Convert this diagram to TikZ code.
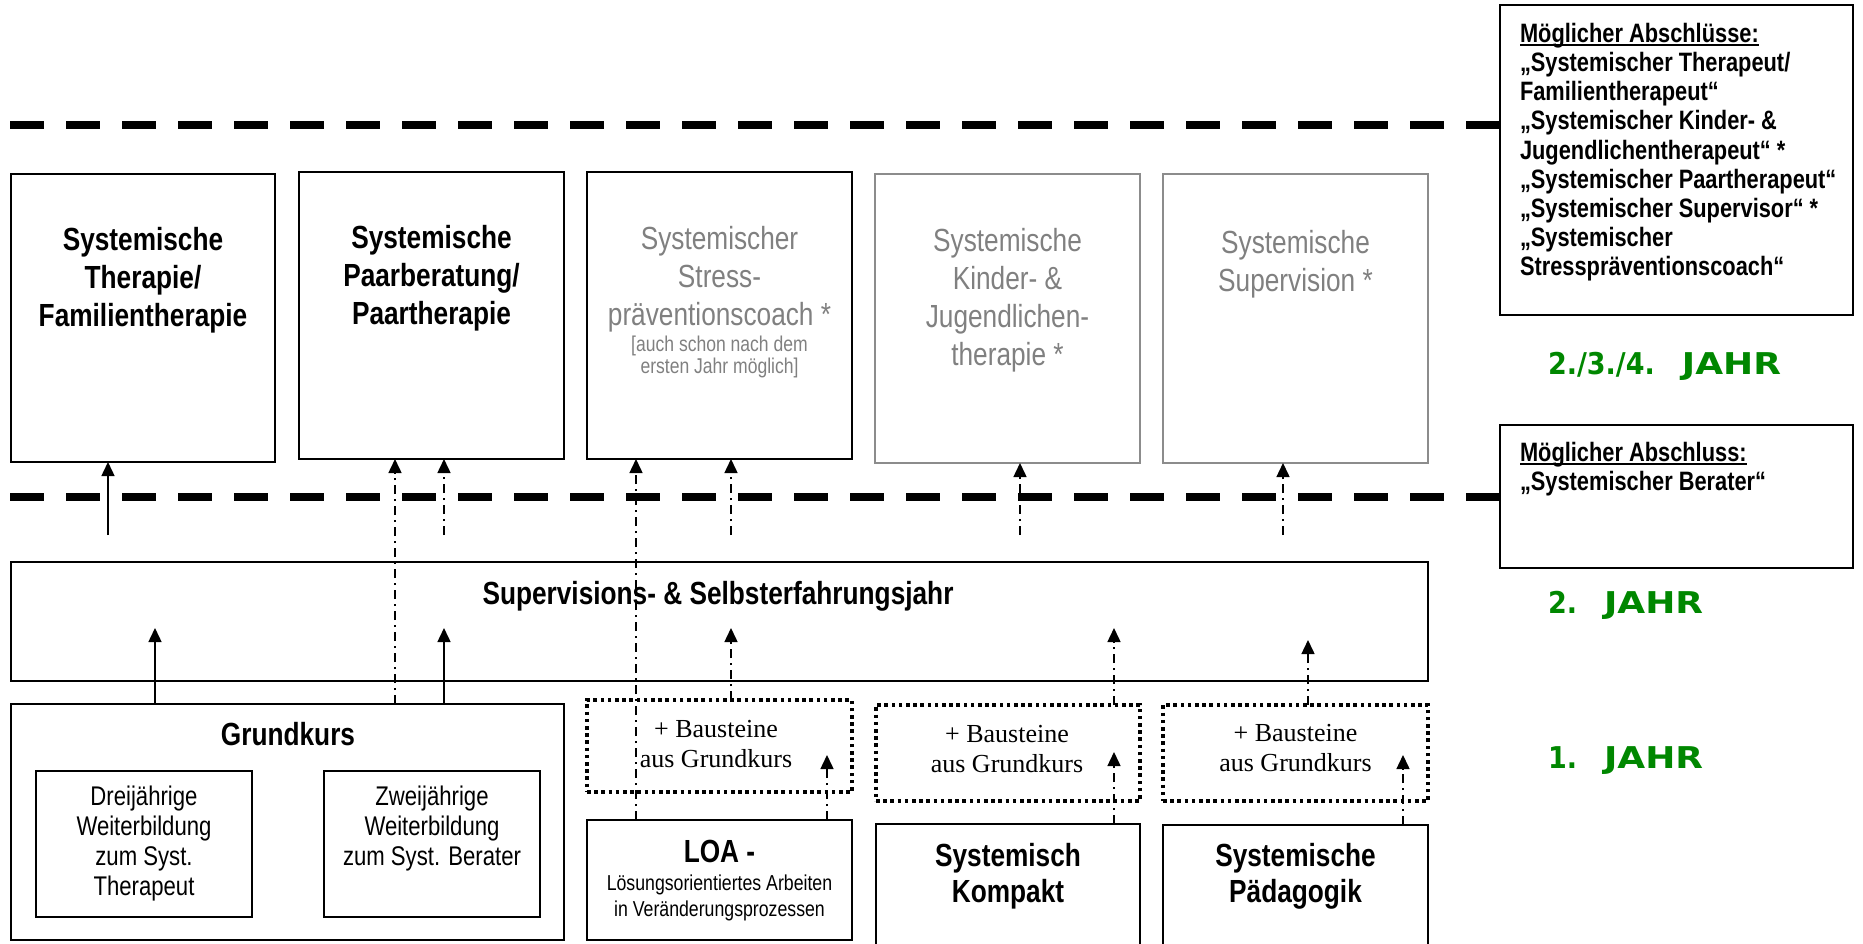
\documentclass[tikz,border=0pt]{standalone}
\usepackage{fontspec}
\setmainfont{Liberation Sans}[FakeStretch=0.82]
\newfontfamily\tnr{Liberation Serif}
\newfontfamily\jahrnum{DejaVu Sans}[FakeStretch=0.9]
\newfontfamily\jahrwide{DejaVu Sans}[FakeStretch=1.2]
\usetikzlibrary{arrows.meta,fit}
\definecolor{txtgray}{RGB}{128,128,128}
\definecolor{boxgray}{RGB}{140,140,140}
\definecolor{jahrgreen}{RGB}{0,135,0}
\newcommand\myul[1]{\setbox0\hbox{#1}\rlap{\rule[-2pt]{\wd0}{0.9pt}}\box0}
\newcommand\jahrtxt[1]{{\jahrnum #1}\hspace{0.9em}{\jahrwide JAHR}}
\begin{document}
\begin{tikzpicture}[x=0.5pt,y=-0.5pt,
  every node/.style={inner sep=0pt,outer sep=0pt},
  box/.style={draw,line width=1pt},
  grbox/.style={draw=boxgray,line width=1pt},
  thickbox/.style={draw,line width=1.25pt},
  dotbox/.style={draw,line width=1.8pt,dash pattern=on 1.8pt off 1.8pt},
  bigdash/.style={line width=4pt,dash pattern=on 17pt off 11pt},
  tipstyle/.style={-{Triangle[width=6.5pt,length=7pt]}},
  solidarr/.style={tipstyle,line width=0.75pt},
  ddarr/.style={tipstyle,line width=0.75pt,dash pattern=on 4.5pt off 2.5pt on 1pt off 2.5pt},
  bigb/.style={font=\fontsize{16}{19}\selectfont\bfseries,align=center},
  bigg/.style={font=\fontsize{16}{19}\selectfont,text=txtgray,align=center},
  smallg/.style={font=\fontsize{10.7}{11}\selectfont,text=txtgray,align=center},
  subtxt/.style={font=\fontsize{13.5}{15}\selectfont,align=center},
  bautxt/.style={font=\tnr\fontsize{13}{15}\selectfont,align=center},
  righttxt/.style={font=\fontsize{13.3}{14.6}\selectfont\bfseries,align=left},
  jahr/.style={font=\bfseries\fontsize{15}{18}\selectfont,text=jahrgreen}
]
\clip (0,0) rectangle (1863,943);

% top boxes
\node[box,  fit={(11,174) (275,462)}]  (A) {};
\node[box,  fit={(299,172) (564,459)}] (B) {};
\node[box,  fit={(587,172) (852,459)}] (C) {};
\node[grbox,fit={(875,174) (1140,463)}] (D) {};
\node[grbox,fit={(1163,174) (1428,463)}] (E) {};

\node[bigb,anchor=north] (Atxt) at (143,227) {Systemische\\Therapie/\\Familientherapie};
\node[bigb,anchor=north] (Btxt) at (431.5,225) {Systemische\\Paarberatung/\\Paartherapie};
\node[bigg,anchor=north] (Ctxt) at (719.5,226) {Systemischer\\Stress-\\präventionscoach *};
\node[smallg,anchor=north] (Cnote) at (719.5,336) {[auch schon nach dem\\ersten Jahr möglich]};
\node[bigg,anchor=north] (Dtxt) at (1007.5,228) {Systemische\\Kinder- \&\\Jugendlichen-\\therapie *};
\node[bigg,anchor=north] (Etxt) at (1295.5,230) {Systemische\\Supervision *};

% right boxes
\node[thickbox,fit={(1500,5) (1853,315)}] (R1) {};
\node[thickbox,fit={(1500,425) (1853,568)}] (R2) {};
\node[righttxt,anchor=north west] (R1txt) at (1520,23) {\myul{Möglicher Abschlüsse:}\\
„Systemischer Therapeut/\\
Familientherapeut“\\
„Systemischer Kinder- \&\\
Jugendlichentherapeut“ *\\
„Systemischer Paartherapeut“\\
„Systemischer Supervisor“ *\\
„Systemischer\\
Stresspräventionscoach“};
\node[righttxt,anchor=north west] (R2txt) at (1520,442) {\myul{Möglicher Abschluss:}\\
„Systemischer Berater“};

% year labels
\node[jahr,anchor=base west] (J1) at (1548,374) {\jahrtxt{2./3./4.}};
\node[jahr,anchor=base west] (J2) at (1548,613) {\jahrtxt{2.}};
\node[jahr,anchor=base west] (J3) at (1548,768) {\jahrtxt{1.}};

% dashed lines
\coordinate (d1) at (10,125);
\draw[bigdash] (d1) -- (d1 -| R1.west);
\coordinate (d2) at (10,497);
\draw[bigdash] (d2) -- (d2 -| R2.west);

% supervision year
\node[thickbox,fit={(11,562) (1428,681)}] (S) {};
\node[font=\fontsize{16}{18.5}\selectfont\bfseries,anchor=base] (Stxt) at (718,604) {Supervisions- \& Selbsterfahrungsjahr};

% Grundkurs
\node[box,fit={(11,704) (564,940)}] (G) {};
\node[font=\fontsize{16}{18.5}\selectfont\bfseries] (Gtxt) at (288,734) {Grundkurs};
\node[box,fit={(36,771) (252,917)}] (G1) {};
\node[box,fit={(324,771) (540,917)}] (G2) {};
\node[subtxt,anchor=north] (G1txt) at (144,786) {Dreijährige\\Weiterbildung\\zum Syst.\\Therapeut};
\node[subtxt,anchor=north] (G2txt) at (432,786) {Zweijährige\\Weiterbildung\\zum Syst. Berater};

% Bausteine
\node[dotbox,fit={(587,700) (852,792)}] (B1) {};
\node[dotbox,fit={(876,705) (1140,801)}] (B2) {};
\node[dotbox,fit={(1163,705) (1428,801)}] (B3) {};
\node[bautxt,anchor=north] (B1txt) at (716,720) {+ Bausteine\\aus Grundkurs};
\node[bautxt,anchor=north] (B2txt) at (1007,725) {+ Bausteine\\aus Grundkurs};
\node[bautxt,anchor=north] (B3txt) at (1295.5,724) {+ Bausteine\\aus Grundkurs};

% bottom courses
\node[thickbox,fit={(587,820) (852,940)}] (L) {};
\node[font=\fontsize{16}{18.5}\selectfont\bfseries,anchor=base] (Ltitle) at (719.5,862) {LOA -};
\node[font=\fontsize{10.8}{13}\selectfont,align=center,anchor=north] (Ltxt) at (719.5,875) {Lösungsorientiertes Arbeiten\\in Veränderungsprozessen};
\node[thickbox,fit={(876,824) (1140,965)}] (K) {};
\node[font=\fontsize{16}{18}\selectfont\bfseries,align=center,anchor=north] (Ktxt) at (1008,843) {Systemisch\\Kompakt};
\node[thickbox,fit={(1163,825) (1428,965)}] (P) {};
\node[font=\fontsize{16}{18}\selectfont\bfseries,align=center,anchor=north] (Ptxt) at (1295.5,843) {Systemische\\Pädagogik};

% arrows to top boxes
\coordinate (a1) at (108,535);
\draw[solidarr] (a1) -- (a1 |- A.south);
\coordinate (x395) at (395,0);
\draw[ddarr] (x395 |- G.north) -- (x395 |- B.south);
\coordinate (a3) at (444,535);
\draw[ddarr] (a3) -- (a3 |- B.south);
\coordinate (x636) at (636,0);
\draw[ddarr] (x636 |- L.north) -- (x636 |- C.south);
\coordinate (a5) at (731,535);
\draw[ddarr] (a5) -- (a5 |- C.south);
\coordinate (a6) at (1020,535);
\draw[ddarr] (a6) -- (a6 |- D.south);
\coordinate (a7) at (1283,535);
\draw[ddarr] (a7) -- (a7 |- E.south);

% arrows into supervision year
\coordinate (s1) at (155,628);
\draw[solidarr] (s1 |- G.north) -- (s1);
\coordinate (s2) at (444,628);
\draw[solidarr] (s2 |- G.north) -- (s2);
\coordinate (s3) at (731,628);
\draw[ddarr] (s3 |- B1.north) -- (s3);
\coordinate (s4) at (1114,628);
\draw[ddarr] (s4 |- B2.north) -- (s4);
\coordinate (s5) at (1308,640);
\draw[ddarr] (s5 |- B3.north) -- (s5);

% arrows into Bausteine
\coordinate (b1) at (827,755);
\draw[ddarr] (b1 |- L.north) -- (b1);
\coordinate (b2) at (1114,752);
\draw[ddarr] (b2 |- K.north) -- (b2);
\coordinate (b3) at (1403,755);
\draw[ddarr] (b3 |- P.north) -- (b3);
\end{tikzpicture}
\end{document}
